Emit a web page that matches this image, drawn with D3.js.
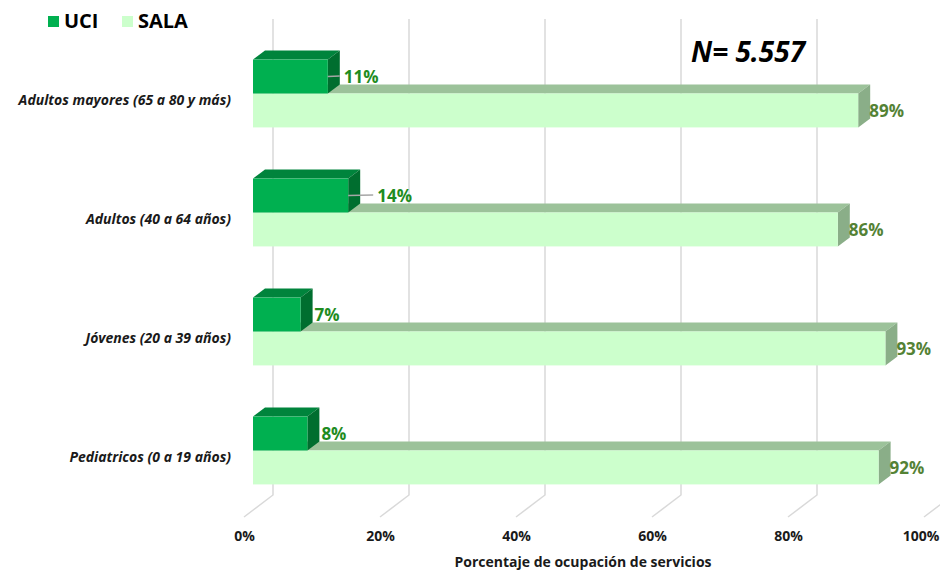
<!DOCTYPE html>
<html><head><meta charset="utf-8">
<script src="https://cdn.jsdelivr.net/npm/d3@7"></script>
<style>body{margin:0;background:#fff}svg{display:block}</style>
</head><body>
<svg id="c" width="940" height="570"></svg>
<script>
const categories = ["Adultos mayores (65 a 80 y más)", "Adultos (40 a 64 años)", "Jóvenes (20 a 39 años)", "Pediatricos (0 a 19 años)"];
const seriesNames = ["UCI", "SALA"];
const uciValues = [11, 14, 7, 8];
const salaValues = [89, 86, 93, 92];
const tickValues = [0, 20, 40, 60, 80, 100];
const tickLabels = ["0%", "20%", "40%", "60%", "80%", "100%"];
const axisTitle = "Porcentaje de ocupación de servicios";
const annotation = "N= 5.557";

const svg = d3.select("#c");
const FONT = "'Open Sans', 'Noto Sans', sans-serif";

// oblique projection offsets
const barDepth = [12, -9];
const wallOff = [20, -15];
const floorOff = [-9, 7];

const x = d3.scaleLinear().domain([0, 100]).range([253, 933]);
const y = d3.scaleBand().domain(categories).range([34, 510]).paddingInner(0.43).paddingOuter(0.215);
const ys = d3.scaleBand().domain(seriesNames).range([0, y.bandwidth()]);

const colors = {
  UCI: {front: "#00b050", top: "#00843c", side: "#006e2f", label: "#1f8c1f"},
  SALA: {front: "#ccffcc", top: "#9cc29a", side: "#8aae88", label: "#548235"}
};

// gridlines (back wall + floor)
const grid = svg.append("g");
tickValues.forEach(t => {
  const bx = x(t) + wallOff[0];
  const topY = y.range()[0] + wallOff[1];
  const botY = y.range()[1] + wallOff[1];
  const fx = x(t) + floorOff[0];
  const fy = y.range()[1] + floorOff[1];
  grid.append("path")
    .attr("d", `M${bx},${topY}L${bx},${botY}L${fx},${fy}`)
    .attr("fill", "none").attr("stroke", "#d9d9d9").attr("stroke-width", 1.5);
});

// bars
function bar3d(g, name, cat, v) {
  const c = colors[name];
  const x0 = x(0), x1 = x(v);
  const y0 = y(cat) + ys(name), y1 = y0 + ys.bandwidth();
  const [dx, dy] = barDepth;
  g.append("path").attr("fill", c.top)
    .attr("d", `M${x0},${y0}L${x0+dx},${y0+dy}L${x1+dx},${y0+dy}L${x1},${y0}Z`);
  g.append("path").attr("fill", c.side)
    .attr("d", `M${x1},${y0}L${x1+dx},${y0+dy}L${x1+dx},${y1+dy}L${x1},${y1}Z`);
  g.append("rect").attr("fill", c.front)
    .attr("x", x0).attr("y", y0).attr("width", x1 - x0).attr("height", y1 - y0);
}
const bars = svg.append("g");
categories.forEach((cat, i) => {
  bar3d(bars, "SALA", cat, salaValues[i]);
  bar3d(bars, "UCI", cat, uciValues[i]);
});

// data labels
const uciNudge = [2, 15, 0, 0];
const labels = svg.append("g").attr("font-family", FONT).attr("font-weight", 700).attr("font-size", 17);
categories.forEach((cat, i) => {
  const yc = y(cat) + ys("UCI") + ys.bandwidth() / 2;
  const xe = x(uciValues[i]) + barDepth[0] + 2 + uciNudge[i];
  if (uciNudge[i] > 0) {
    labels.append("line").attr("x1", x(uciValues[i])).attr("x2", xe - 4)
      .attr("y1", yc).attr("y2", yc - 0.5).attr("stroke", "#a6a6a6").attr("stroke-width", 1.5);
  }
  labels.append("text").attr("x", xe).attr("y", yc).attr("dy", "0.36em")
    .attr("fill", colors.UCI.label).text(uciValues[i] + "%");
  const ycs = y(cat) + ys("SALA") + ys.bandwidth() / 2;
  labels.append("text").attr("x", x(salaValues[i]) + barDepth[0] - 1).attr("y", ycs).attr("dy", "0.36em")
    .attr("fill", colors.SALA.label).text(salaValues[i] + "%");
});

// category labels
const catG = svg.append("g").attr("font-family", FONT).attr("font-weight", 700)
  .attr("font-style", "italic").attr("font-size", 14).attr("fill", "#1a1a1a").attr("text-anchor", "end");
categories.forEach(cat => {
  catG.append("text").attr("x", 231).attr("y", y(cat) + y.bandwidth() / 2 + floorOff[1]).attr("dy", "0.35em").text(cat);
});

// x axis
const xFloor = x.copy().range(x.range().map(r => r + floorOff[0]));
const axis = d3.axisBottom(xFloor).tickValues(tickValues).tickSize(0).tickPadding(0)
  .tickFormat((d, i) => tickLabels[i]);
const ax = svg.append("g").attr("transform", "translate(0,531)").call(axis);
ax.select(".domain").remove();
ax.selectAll("text").attr("font-family", FONT).attr("font-weight", 700).attr("font-size", 14).attr("fill", "#1a1a1a");
// keep the last tick label inside the window
ax.selectAll(".tick").filter(d => d === 100).select("text").attr("text-anchor", "end").attr("x", 939 - xFloor(100));

svg.append("text").attr("x", 583).attr("y", 567).attr("text-anchor", "middle")
  .attr("font-family", FONT).attr("font-weight", 700).attr("font-size", 14).attr("fill", "#1a1a1a").text(axisTitle);

// legend
const leg = svg.append("g").attr("font-family", FONT).attr("font-weight", 700).attr("font-size", 20).attr("fill", "#000");
const legX = [48, 122];
seriesNames.forEach((s, i) => {
  leg.append("rect").attr("x", legX[i]).attr("y", 16).attr("width", 11).attr("height", 11).attr("fill", colors[s].front);
  leg.append("text").attr("x", legX[i] + 16).attr("y", 28).text(s);
});

// annotation
svg.append("text").attr("x", 691).attr("y", 62).attr("font-family", FONT).attr("font-weight", 700)
  .attr("font-style", "italic").attr("font-size", 28).attr("fill", "#000").text(annotation);
</script>
</body></html>
